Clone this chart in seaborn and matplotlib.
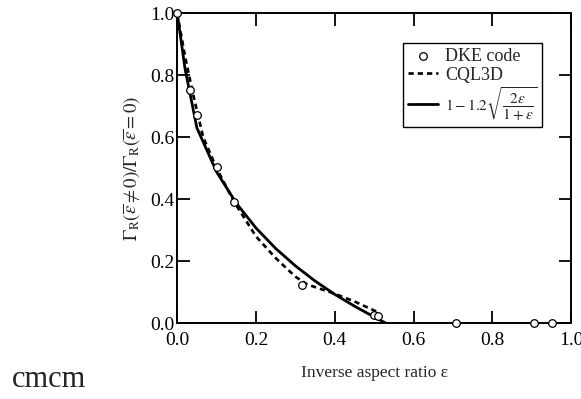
import numpy as np
import pandas as pd
import matplotlib
matplotlib.use("Agg")
import matplotlib.pyplot as plt
import seaborn as sns

# DKE code (open circles)
dke_eps = [0.0, 0.032, 0.051, 0.100, 0.145, 0.316, 0.500, 0.510, 0.707, 0.906, 0.951]
dke_val = [1.0, 0.752, 0.670, 0.503, 0.392, 0.123, 0.028, 0.022, 0.0, 0.0, 0.0]

# CQL3D (dashed)
cql_eps = [0.0, 0.02, 0.04, 0.066, 0.10, 0.145, 0.20, 0.25, 0.30, 0.33, 0.40, 0.45, 0.51]
cql_val = [1.0, 0.86, 0.74, 0.60, 0.50, 0.39, 0.28, 0.21, 0.15, 0.125, 0.095, 0.07, 0.035]

# fit 1-1.2*sqrt(2e/(1+e)) (solid)
fit_eps = [0.0, 0.02, 0.05, 0.10, 0.15, 0.20, 0.25, 0.30, 0.35, 0.40, 0.45, 0.50, 0.53]
fit_val = [1.0, 0.82, 0.63, 0.488, 0.387, 0.307, 0.241, 0.185, 0.136, 0.093, 0.055, 0.020, 0.0]

xticks = [0.0, 0.2, 0.4, 0.6, 0.8, 1.0]
yticks = [0.0, 0.2, 0.4, 0.6, 0.8, 1.0]

sns.set_style("ticks")
plt.rcParams['font.family'] = ['Liberation Serif', 'DejaVu Serif']
plt.rcParams['mathtext.fontset'] = 'stix'

fig = plt.figure(figsize=(5.81, 3.99), dpi=100)
ax = fig.add_axes([0.305, 0.19, 0.678, 0.777])

sns.lineplot(x=fit_eps, y=fit_val, ax=ax, color='black', linewidth=2.0,
             label=r'$1-1.2\sqrt{\dfrac{2\varepsilon}{1+\varepsilon}}$', zorder=2)
sns.lineplot(x=cql_eps, y=cql_val, ax=ax, color='black', linewidth=1.9,
             linestyle=(0, (2.0, 1.5)), label='CQL3D', zorder=2)
sns.scatterplot(x=dke_eps, y=dke_val, ax=ax, marker='o', s=30, facecolor='white',
                edgecolor='black', linewidth=0.9, label='DKE code', zorder=3, clip_on=False)

ax.set_xlim(0, 1.0)
ax.set_ylim(0, 1.0)
ax.set_xticks(xticks)
ax.set_yticks(yticks)
ax.set_xticklabels([f'{t:.1f}' for t in xticks])
ax.set_yticklabels([f'{t:.1f}' for t in yticks])
ax.tick_params(direction='in', length=9, width=1.3, top=True, right=True,
               labelsize=14, colors='black')
ax.tick_params(axis='x', pad=6)
ax.tick_params(axis='y', pad=2)
for s in ax.spines.values():
    s.set_visible(True)
    s.set_linewidth(1.4)
    s.set_color('black')

ax.set_xlabel('Inverse aspect ratio ε', fontsize=12.5, labelpad=12)
ax.set_ylabel(r'$\Gamma_{\rm R}(\overline{\varepsilon}\neq 0)/\Gamma_{\rm R}(\overline{\varepsilon}=0)$',
              fontsize=13.5, labelpad=6)

h, l = ax.get_legend_handles_labels()
order = [2, 1, 0]
leg = ax.legend([h[i] for i in order], [l[i] for i in order], loc='upper right',
                bbox_to_anchor=(0.926, 0.903), fontsize=13, frameon=True, fancybox=False,
                edgecolor='black', framealpha=1, handlelength=1.7, handletextpad=0.35,
                borderpad=0.25, labelspacing=0.1, borderaxespad=0)
leg.get_frame().set_linewidth(1.0)
leg.get_texts()[2].set_fontsize(11)

fig.text(0.02, 0.03, 'cmcm', fontsize=22)

fig.savefig('out.png', dpi=100)
